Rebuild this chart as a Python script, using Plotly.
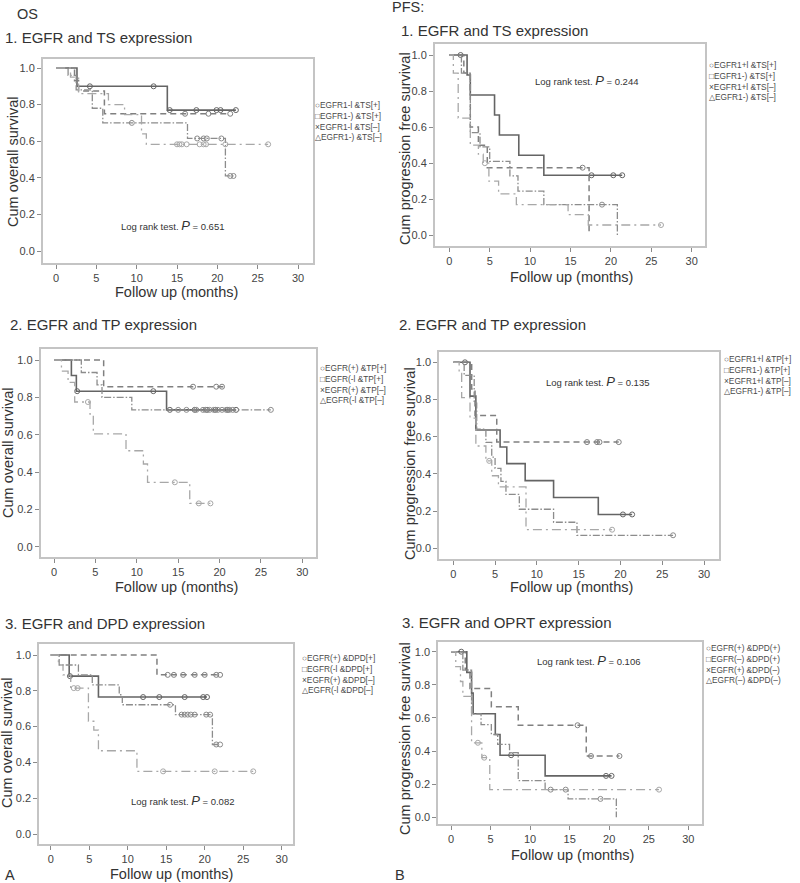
import plotly.graph_objects as go

W, H = 800, 883
FONT = "Liberation Sans, Arial, sans-serif"

# ---------------- data: (event times, survival after event, end time, censor times) ----------------
# Panel OS-1 (EGFR and TS)
os1_g1_t = [2.6, 13.8]; os1_g1_s = [0.90, 0.77]; os1_g1_end = 22.3
os1_g1_c = [4.2, 12.1, 14.1, 17.4, 19.9, 20.4, 22.3]
os1_g2_t = [2.3, 2.8, 6.0]; os1_g2_s = [0.93, 0.875, 0.75]; os1_g2_end = 21.6
os1_g2_c = [16.0, 18.9, 21.6]
os1_g3_t = [1.5, 2.5, 4.5, 5.8, 16.3, 21.0]; os1_g3_s = [0.96, 0.88, 0.78, 0.70, 0.615, 0.41]; os1_g3_end = 22.0
os1_g3_c = [9.4, 17.5, 18.3, 18.7, 20.5, 21.6, 22.0]
os1_g4_t = [1.8, 2.8, 6.5, 8.5, 10.6, 11.2]; os1_g4_s = [0.95, 0.86, 0.80, 0.745, 0.64, 0.583]; os1_g4_end = 26.3
os1_g4_c = [15.0, 15.3, 15.6, 16.2, 17.8, 18.3, 18.6, 21.0, 26.3]

# Panel PFS-1 (EGFR and TS)
pfs1_g1_t = [2.2, 2.6, 5.6, 6.2, 8.6, 11.7]; pfs1_g1_s = [0.889, 0.778, 0.667, 0.556, 0.444, 0.333]; pfs1_g1_end = 21.4
pfs1_g1_c = [1.4, 17.6, 20.3, 21.4]
pfs1_g2_t = [1.8, 2.6, 3.6, 4.7, 17.3]; pfs1_g2_s = [0.90, 0.60, 0.50, 0.375, 0.0]; pfs1_g2_end = 17.3
pfs1_g2_c = [16.5]
pfs1_g3_t = [1.5, 2.6, 3.8, 5.0, 7.5, 8.5, 11.7, 20.8]; pfs1_g3_s = [0.90, 0.57, 0.49, 0.41, 0.33, 0.245, 0.17, 0.0]; pfs1_g3_end = 20.8
pfs1_g3_c = [18.9]
pfs1_g4_t = [0.5, 1.1, 2.6, 3.6, 4.2, 4.9, 6.1, 8.3, 14.7, 17.2]
pfs1_g4_s = [0.90, 0.65, 0.50, 0.45, 0.40, 0.30, 0.23, 0.17, 0.115, 0.057]; pfs1_g4_end = 26.2
pfs1_g4_c = [4.4, 26.2]

# Panel OS-2 (EGFR and TP)
os2_g1_t = [2.1, 2.7, 13.6]; os2_g1_s = [0.917, 0.833, 0.733]; os2_g1_end = 22.0
os2_g1_c = [2.8, 12.0, 14.0, 17.0, 18.5, 19.5, 21.0, 22.0]
os2_g2_t = [6.0]; os2_g2_s = [0.857]; os2_g2_end = 20.5
os2_g2_c = [16.8, 19.6, 20.3]
os2_g3_t = [3.3, 5.2, 5.8, 9.4]; os2_g3_s = [0.933, 0.867, 0.80, 0.733]; os2_g3_end = 26.2
os2_g3_c = [15.0, 16.0, 17.2, 18.0, 18.3, 18.8, 19.3, 19.8, 20.3, 20.8, 21.2, 21.6, 26.2]
os2_g4_t = [0.9, 1.7, 2.5, 4.35, 4.75, 8.7, 10.8, 11.3, 16.4]
os2_g4_s = [0.94, 0.88, 0.775, 0.71, 0.604, 0.514, 0.443, 0.345, 0.232]; os2_g4_end = 18.9
os2_g4_c = [4.1, 14.6, 17.5, 18.9]

# Panel PFS-2 (EGFR and TP)
pfs2_g1_t = [2.0, 2.7, 5.6, 6.4, 8.6, 12.0, 17.35]
pfs2_g1_s = [0.818, 0.636, 0.545, 0.455, 0.364, 0.273, 0.182]; pfs2_g1_end = 21.4
pfs2_g1_c = [1.4, 20.3, 21.4]
pfs2_g2_t = [2.2, 2.6, 5.2]; pfs2_g2_s = [0.857, 0.714, 0.571]; pfs2_g2_end = 19.8
pfs2_g2_c = [16.0, 17.2, 17.5, 19.8]
pfs2_g3_t = [1.3, 2.5, 2.8, 3.9, 4.6, 5.0, 5.7, 6.3, 7.9, 12.0, 14.8]
pfs2_g3_s = [0.93, 0.78, 0.64, 0.57, 0.49, 0.43, 0.36, 0.29, 0.21, 0.14, 0.07]; pfs2_g3_end = 26.3
pfs2_g3_c = [26.3]
pfs2_g4_t = [0.7, 1.0, 2.0, 2.7, 3.9, 4.6, 5.4, 8.7]
pfs2_g4_s = [0.94, 0.81, 0.70, 0.55, 0.47, 0.39, 0.33, 0.10]; pfs2_g4_end = 19.0
pfs2_g4_c = [4.3, 19.0]

# Panel OS-3 (EGFR and DPD)
os3_g1_t = [2.4, 6.2]; os3_g1_s = [0.882, 0.765]; os3_g1_end = 20.3
os3_g1_c = [2.5, 12.0, 14.1, 17.4, 19.8, 20.3]
os3_g2_t = [13.8]; os3_g2_s = [0.889]; os3_g2_end = 22.0
os3_g2_c = [15.2, 16.0, 17.2, 18.7, 20.0, 21.5, 22.0]
os3_g3_t = [1.1, 3.6, 5.4, 8.9, 9.3, 16.2, 21.0]
os3_g3_s = [0.944, 0.889, 0.833, 0.778, 0.722, 0.667, 0.50]; os3_g3_end = 22.0
os3_g3_c = [15.5, 17.0, 17.4, 17.8, 18.2, 18.7, 20.2, 20.7, 21.5, 22.0]
os3_g4_t = [1.0, 1.6, 2.6, 4.9, 5.6, 6.2, 11.2]
os3_g4_s = [0.944, 0.889, 0.815, 0.63, 0.58, 0.465, 0.35]; os3_g4_end = 26.3
os3_g4_c = [3.0, 3.5, 14.6, 21.3, 26.3]

# Panel PFS-3 (EGFR and OPRT)
pfs3_g1_t = [2.0, 2.6, 2.8, 5.6, 6.2, 11.9]; pfs3_g1_s = [0.875, 0.75, 0.625, 0.50, 0.375, 0.25]; pfs3_g1_end = 20.3
pfs3_g1_c = [1.3, 7.6, 19.6, 20.3]
pfs3_g2_t = [1.8, 2.4, 5.1, 8.5, 17.1]; pfs3_g2_s = [0.889, 0.778, 0.667, 0.556, 0.37]; pfs3_g2_end = 21.3
pfs3_g2_c = [16.0, 17.7, 21.3]
pfs3_g3_t = [1.5, 2.6, 3.8, 5.1, 5.9, 7.4, 8.5, 11.9, 14.8, 20.9]
pfs3_g3_s = [0.889, 0.625, 0.56, 0.50, 0.44, 0.39, 0.222, 0.167, 0.111, 0.0]; pfs3_g3_end = 20.9
pfs3_g3_c = [12.6, 14.5, 18.9]
pfs3_g4_t = [0.6, 1.2, 1.5, 2.6, 3.9, 4.9]; pfs3_g4_s = [0.91, 0.82, 0.73, 0.45, 0.36, 0.167]; pfs3_g4_end = 26.3
pfs3_g4_c = [3.4, 4.2, 26.3]

x_ticks = [0, 5, 10, 15, 20, 25, 30]
y_ticks = [0.0, 0.2, 0.4, 0.6, 0.8, 1.0]

# legend labels
os1_labels = ["EGFR1-l &TS[+]", "EGFR1-) &TS[+]", "EGFR1-l &TS[\u2013]", "EGFR1-) &TS[\u2013]"]
pfs1_labels = ["EGFR1+l &TS[+]", "EGFR1-) &TS[+]", "EGFR1+l &TS[\u2013]", "EGFR1-) &TS[\u2013]"]
os2_labels = ["EGFR(+) &TP[+]", "EGFR(-l &TP[+]", "EGFR(+) &TP[\u2013]", "EGFR(-l &TP[\u2013]"]
pfs2_labels = ["EGFR1+l &TP[+]", "EGFR1-) &TP[+]", "EGFR1+l &TP[\u2013]", "EGFR1-) &TP[\u2013]"]
os3_labels = ["EGFR(+) &DPD[+]", "EGFR(-l &DPD[+]", "EGFR(+) &DPD[\u2013]", "EGFR(-l &DPD[\u2013]"]
pfs3_labels = ["EGFR(+) &DPD(+)", "EGFR(\u2013) &DPD(+)", "EGFR(+) &DPD(\u2013)", "EGFR(\u2013) &DPD(\u2013)"]

# ---------------- panel layout (pixel geometry) ----------------
panels = [
    dict(name="os1", box=(43, 59, 313, 263), xt=(56, 298), yt=(68, 251),
         groups=[(os1_g1_t, os1_g1_s, os1_g1_end, os1_g1_c), (os1_g2_t, os1_g2_s, os1_g2_end, os1_g2_c),
                 (os1_g3_t, os1_g3_s, os1_g3_end, os1_g3_c), (os1_g4_t, os1_g4_s, os1_g4_end, os1_g4_c)],
         labels=os1_labels, leg=(314, 121.5),
         title=("1. EGFR and TS expression", 3, 38), ytitle=("Cum overall survival", 13, 162),
         xtitle=(176, 292), lr=("0.651", 172, 225)),
    dict(name="pfs1", box=(435, 44, 705, 246), xt=(449.3, 691.7), yt=(55, 235.3),
         groups=[(pfs1_g1_t, pfs1_g1_s, pfs1_g1_end, pfs1_g1_c), (pfs1_g2_t, pfs1_g2_s, pfs1_g2_end, pfs1_g2_c),
                 (pfs1_g3_t, pfs1_g3_s, pfs1_g3_end, pfs1_g3_c), (pfs1_g4_t, pfs1_g4_s, pfs1_g4_end, pfs1_g4_c)],
         labels=pfs1_labels, leg=(708, 81),
         title=("1. EGFR and TS expression", 399, 31), ytitle=("Cum progression free survival", 405, 149),
         xtitle=(571, 277), lr=("0.244", 586, 81)),
    dict(name="os2", box=(40.7, 349.3, 316, 556.7), xt=(54, 302.3), yt=(360, 546.7),
         groups=[(os2_g1_t, os2_g1_s, os2_g1_end, os2_g1_c), (os2_g2_t, os2_g2_s, os2_g2_end, os2_g2_c),
                 (os2_g3_t, os2_g3_s, os2_g3_end, os2_g3_c), (os2_g4_t, os2_g4_s, os2_g4_end, os2_g4_c)],
         labels=os2_labels, leg=(319, 384),
         title=("2. EGFR and TP expression", 8, 324), ytitle=("Cum overall survival", 8, 453),
         xtitle=(176, 587), lr=None),
    dict(name="pfs2", box=(439.3, 351.7, 719.3, 559), xt=(453.3, 704), yt=(362.3, 548.3),
         groups=[(pfs2_g1_t, pfs2_g1_s, pfs2_g1_end, pfs2_g1_c), (pfs2_g2_t, pfs2_g2_s, pfs2_g2_end, pfs2_g2_c),
                 (pfs2_g3_t, pfs2_g3_s, pfs2_g3_end, pfs2_g3_c), (pfs2_g4_t, pfs2_g4_s, pfs2_g4_end, pfs2_g4_c)],
         labels=pfs2_labels, leg=(723, 375),
         title=("2. EGFR and TP expression", 397, 324), ytitle=("Cum progression free survival", 410, 463),
         xtitle=(571, 587), lr=("0.135", 597, 381)),
    dict(name="os3", box=(39.3, 644.3, 293.3, 844), xt=(50.7, 281.7), yt=(655, 834),
         groups=[(os3_g1_t, os3_g1_s, os3_g1_end, os3_g1_c), (os3_g2_t, os3_g2_s, os3_g2_end, os3_g2_c),
                 (os3_g3_t, os3_g3_s, os3_g3_end, os3_g3_c), (os3_g4_t, os3_g4_s, os3_g4_end, os3_g4_c)],
         labels=os3_labels, leg=(301, 673.5),
         title=("3. EGFR and DPD expression", 3, 623), ytitle=("Cum overall survival", 7, 743),
         xtitle=(171, 874), lr=("0.082", 182, 800)),
    dict(name="pfs3", box=(438.3, 642.3, 701.7, 823.5), xt=(451, 688.3), yt=(651.7, 817.3),
         groups=[(pfs3_g1_t, pfs3_g1_s, pfs3_g1_end, pfs3_g1_c), (pfs3_g2_t, pfs3_g2_s, pfs3_g2_end, pfs3_g2_c),
                 (pfs3_g3_t, pfs3_g3_s, pfs3_g3_end, pfs3_g3_c), (pfs3_g4_t, pfs3_g4_s, pfs3_g4_end, pfs3_g4_c)],
         labels=pfs3_labels, leg=(705, 663.5),
         title=("3. EGFR and OPRT expression", 400, 622), ytitle=("Cum progression free survival", 405, 739),
         xtitle=(572, 855), lr=("0.106", 588, 660)),
]

styles = [
    dict(color="#646464", dash="solid", width=1.6),
    dict(color="#808080", dash="6px,4px", width=1.5),
    dict(color="#8c8c8c", dash="7px,2px,1.5px,2px", width=1.3),
    dict(color="#a8a8a8", dash="9px,4px,2px,4px", width=1.3),
]
glyphs = ["\u25CB", "\u25A1", "\u00D7", "\u25B3"]


def px(x):
    return x / W


def py(y):
    return 1 - y / H


def surv_at(t_list, s_list, t):
    val = 1.0
    for ti, si in zip(t_list, s_list):
        if ti <= t:
            val = si
    return val


fig = go.Figure()
annotations = []
layout_axes = {}

for i, p in enumerate(panels, start=1):
    L, T, R, B = p["box"]
    x0, x30 = p["xt"]
    y1, y0 = p["yt"]
    xs = (x30 - x0) / 30.0
    ys = (y0 - y1)
    xr = [(L - x0) / xs, (R - x0) / xs]
    yr = [(y0 - B) / ys, (y0 - T) / ys]
    xa = "x" if i == 1 else f"x{i}"
    ya = "y" if i == 1 else f"y{i}"
    common = dict(showline=True, mirror=True, linecolor="#c4c4c4", linewidth=2,
                  ticks="outside", ticklen=4, tickwidth=1, tickcolor="#8a8a8a",
                  showgrid=False, zeroline=False, automargin=False,
                  tickfont=dict(family=FONT, size=11, color="#444444"))
    layout_axes["xaxis" if i == 1 else f"xaxis{i}"] = dict(
        domain=[px(L), px(R)], range=xr, anchor=ya, tickvals=x_ticks,
        ticktext=[str(v) for v in x_ticks], **common)
    layout_axes["yaxis" if i == 1 else f"yaxis{i}"] = dict(
        domain=[py(B), py(T)], range=yr, anchor=xa, tickvals=y_ticks,
        ticktext=[f"{v:.1f}" for v in y_ticks], **common)

    for g, (tt, ss, end, cens) in enumerate(p["groups"]):
        st = styles[g]
        xs_line = [0.0] + list(tt)
        ys_line = [1.0] + list(ss)
        if end > xs_line[-1]:
            xs_line.append(end)
            ys_line.append(ys_line[-1])
        fig.add_trace(go.Scatter(x=xs_line, y=ys_line, mode="lines", line_shape="hv",
                                 line=dict(color=st["color"], dash=st["dash"], width=st["width"]),
                                 xaxis=xa, yaxis=ya, showlegend=False, hoverinfo="skip"))
        cy = [surv_at(tt, ss, c) for c in cens]
        fig.add_trace(go.Scatter(x=cens, y=cy, mode="markers",
                                 marker=dict(symbol="circle-open", size=5, color=st["color"],
                                             line=dict(width=1, color=st["color"])),
                                 xaxis=xa, yaxis=ya, showlegend=False, hoverinfo="skip"))

    # legend (one multi-line annotation)
    lx, lyc = p["leg"]
    lines = [glyphs[g] + lab.replace("&", "&amp;") for g, lab in enumerate(p["labels"])]
    annotations.append(dict(x=px(lx), y=py(lyc), xref="paper", yref="paper",
                            xanchor="left", yanchor="middle", showarrow=False, align="left",
                            text="<br>".join(lines), borderpad=0,
                            font=dict(family=FONT, size=8.3, color="#4a4a4a")))
    # panel title
    tt_, tx, ty = p["title"]
    annotations.append(dict(x=px(tx), y=py(ty), xref="paper", yref="paper", xanchor="left",
                            yanchor="middle", showarrow=False, text=tt_,
                            font=dict(family=FONT, size=15, color="#333333")))
    # y title
    yt_, yx, yy = p["ytitle"]
    annotations.append(dict(x=px(yx), y=py(yy), xref="paper", yref="paper", xanchor="center",
                            yanchor="middle", showarrow=False, text=yt_, textangle=-90,
                            font=dict(family=FONT, size=14.5, color="#333333")))
    # x title
    xx, xy = p["xtitle"]
    annotations.append(dict(x=px(xx), y=py(xy), xref="paper", yref="paper", xanchor="center",
                            yanchor="middle", showarrow=False, text="Follow up (months)",
                            font=dict(family=FONT, size=14.5, color="#333333")))
    if p["lr"]:
        pv, lx2, ly2 = p["lr"]
        annotations.append(dict(x=px(lx2), y=py(ly2), xref="paper", yref="paper", xanchor="center",
                                yanchor="middle", showarrow=False,
                                text=f"Log rank test. <i><span style='font-size:13px'>P</span></i> = {pv}",
                                font=dict(family=FONT, size=9.5, color="#333333")))

for txt, x, y in [("OS", 15, 14), ("PFS:", 390, 7), ("A", 3, 875), ("B", 393, 875)]:
    annotations.append(dict(x=px(x), y=py(y), xref="paper", yref="paper", xanchor="left",
                            yanchor="middle", showarrow=False, text=txt,
                            font=dict(family=FONT, size=14.5, color="#333333")))

fig.update_layout(width=W, height=H, margin=dict(l=0, r=0, t=0, b=0),
                  paper_bgcolor="white", plot_bgcolor="white", showlegend=False,
                  annotations=annotations, **layout_axes)

fig.write_html("out.html", config={"displayModeBar": False},
               post_script="document.body.style.margin='0';document.body.style.overflow='hidden';")
